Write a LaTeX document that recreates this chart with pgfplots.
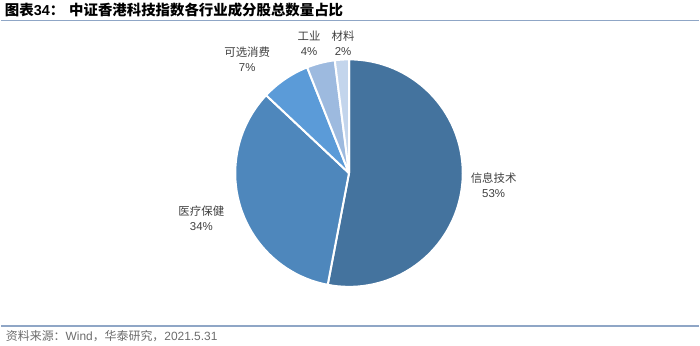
\documentclass[border=0pt]{standalone}
\usepackage{pgfplots}
\usepackage{pgfplotstable}
\pgfplotsset{compat=1.18}
\usepackage{fontspec}
\setmainfont{Liberation Sans}
\newfontfamily\cjk{Noto Sans CJK SC}
\definecolor{c1}{HTML}{44739E}
\definecolor{c2}{HTML}{4E87BC}
\definecolor{c3}{HTML}{5B9BD8}
\definecolor{c4}{HTML}{9DBADF}
\definecolor{c5}{HTML}{C3D5EC}
\definecolor{rulecol}{HTML}{8FA6C6}
\definecolor{txt}{HTML}{404040}
\pgfplotstableread{
idx pct col
0 53 c1
1 34 c2
2 7 c3
3 4 c4
4 2 c5
}\piedata
\begin{document}
\begin{tikzpicture}
\begin{axis}[
  x=1bp, y=1bp, xmin=0, xmax=700, ymin=0, ymax=346,
  hide axis, scale only axis, clip=false,
  anchor=origin, at={(0,0)},
]
\pgfplotsextra{%
  \gdef\angstart{90}%
  \pgfplotstablegetrowsof{\piedata}%
  \pgfmathtruncatemacro\nrows{\pgfplotsretval-1}%
  \foreach \i in {0,...,\nrows}{%
    \pgfplotstablegetelem{\i}{pct}\of\piedata \let\wval\pgfplotsretval
    \pgfplotstablegetelem{\i}{col}\of\piedata \let\wcol\pgfplotsretval
    \pgfmathsetmacro\angend{\angstart-3.6*\wval}%
    \fill[fill=\wcol, draw=white, line width=2bp, line join=round]
      (axis cs:349,172.5) -- ++(\angstart:114bp)
      arc[start angle=\angstart, end angle=\angend, radius=114bp] -- cycle;
    \global\let\angstart\angend
  }%
  % title and rules
  \node[anchor=base west, inner sep=0pt] at (axis cs:4,330)
    {\fontsize{14.5}{15}\selectfont\bfseries{\cjk 图表}34{\cjk ：}\hspace{5bp}{\cjk 中证香港科技指数各行业成分股总数量占比}};
  \draw[rulecol, line width=1.6bp] (axis cs:0,325.5) -- (axis cs:700,325.5);
  \draw[rulecol, line width=1.6bp] (axis cs:0,19.5) -- (axis cs:700,19.5);
  \node[anchor=base west, inner sep=0pt, text=gray!85!black] at (axis cs:5,4.5)
    {\fontsize{12}{12}\selectfont{\cjk 资料来源：}Wind{\cjk ，华泰研究，}2021.5.31};
  % labels
  \tikzset{lab/.style={align=center, inner sep=0pt, text=txt, font=\fontsize{11.5}{15}\selectfont}}
  \node[lab] at (axis cs:494,160) {{\cjk 信息技术}\\53\%};
  \node[lab] at (axis cs:201,127) {{\cjk 医疗保健}\\34\%};
  \node[lab] at (axis cs:247,287) {{\cjk 可选消费}\\7\%};
  \node[lab] at (axis cs:309,303) {{\cjk 工业}\\4\%};
  \node[lab] at (axis cs:343,303) {{\cjk 材料}\\2\%};
}
\end{axis}
\useasboundingbox (0,0) rectangle (700bp,346bp);
\end{tikzpicture}
\end{document}
